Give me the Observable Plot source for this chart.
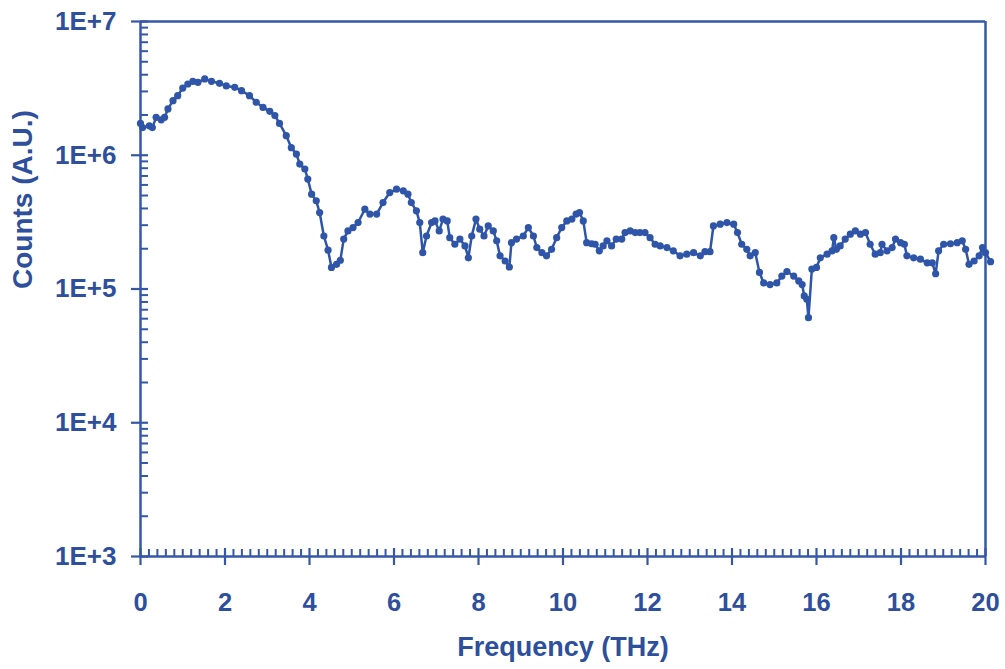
<!DOCTYPE html>
<html>
<head>
<meta charset="utf-8">
<script src="https://cdn.jsdelivr.net/npm/d3@7"></script>
<script src="https://cdn.jsdelivr.net/npm/@observablehq/plot@0.6"></script>
<style>
  html, body { margin: 0; padding: 0; background: #ffffff; }
  #chart svg { display: block; font-family: "Liberation Sans", Arial, sans-serif; font-weight: bold; }
</style>
</head>
<body>
<div id="chart"></div>
<script>
// Frequency (THz)
const freq = [
  0.00, 0.05, 0.21, 0.28, 0.37, 0.49, 0.57, 0.65, 0.77, 0.88,
  1.00, 1.12, 1.24, 1.36, 1.52, 1.68, 1.87, 2.03, 2.23, 2.39,
  2.58, 2.74, 2.90, 3.06, 3.18, 3.29, 3.45, 3.57, 3.69, 3.77,
  3.89, 3.96, 4.05, 4.16, 4.24, 4.34, 4.44, 4.52, 4.64, 4.73,
  4.81, 4.91, 5.03, 5.15, 5.31, 5.43, 5.59, 5.74, 5.90, 6.06,
  6.22, 6.33, 6.41, 6.53, 6.61, 6.68, 6.77, 6.89, 6.97, 7.07,
  7.16, 7.26, 7.32, 7.44, 7.56, 7.68, 7.76, 7.84, 7.94, 8.03,
  8.13, 8.23, 8.35, 8.43, 8.51, 8.63, 8.73, 8.78, 8.90, 9.06,
  9.18, 9.30, 9.38, 9.50, 9.61, 9.73, 9.85, 9.97, 10.09, 10.21,
  10.31, 10.39, 10.48, 10.56, 10.68, 10.76, 10.86, 10.95, 11.04, 11.15,
  11.26, 11.39, 11.47, 11.59, 11.71, 11.82, 11.94, 12.06, 12.18, 12.30,
  12.46, 12.61, 12.77, 12.93, 13.09, 13.25, 13.36, 13.48, 13.56, 13.72,
  13.88, 14.04, 14.13, 14.23, 14.35, 14.43, 14.55, 14.65, 14.75, 14.90,
  15.06, 15.18, 15.30, 15.46, 15.58, 15.66, 15.71, 15.77, 15.81, 15.89,
  16.00, 16.09, 16.25, 16.37, 16.41, 16.47, 16.56, 16.68, 16.80, 16.92,
  17.04, 17.16, 17.27, 17.39, 17.51, 17.55, 17.67, 17.79, 17.87, 17.99,
  18.08, 18.14, 18.30, 18.46, 18.62, 18.74, 18.82, 18.89, 19.01, 19.17,
  19.33, 19.45, 19.53, 19.61, 19.73, 19.85, 19.93, 20.00, 20.12
];
// Counts (A.U.)
const counts = [
  1.73e6, 1.61e6, 1.66e6, 1.61e6, 1.92e6, 1.84e6, 1.92e6, 2.22e6, 2.56e6, 2.79e6,
  3.18e6, 3.41e6, 3.57e6, 3.51e6, 3.72e6, 3.57e6, 3.45e6, 3.30e6, 3.22e6, 3.04e6,
  2.79e6, 2.49e6, 2.28e6, 2.13e6, 1.98e6, 1.73e6, 1.40e6, 1.14e6, 1.02e6, 8.59e5,
  7.89e5, 6.64e5, 5.12e5, 4.56e5, 3.73e5, 2.49e5, 1.95e5, 1.45e5, 1.53e5, 1.64e5,
  2.36e5, 2.72e5, 2.88e5, 3.14e5, 3.95e5, 3.63e5, 3.63e5, 4.43e5, 5.26e5, 5.58e5,
  5.42e5, 5.12e5, 4.43e5, 3.84e5, 3.14e5, 1.87e5, 2.49e5, 3.14e5, 3.23e5, 2.72e5,
  3.33e5, 3.23e5, 2.42e5, 2.16e5, 2.36e5, 2.10e5, 1.71e5, 2.49e5, 3.33e5, 2.80e5,
  2.49e5, 2.96e5, 2.72e5, 2.29e5, 1.77e5, 1.62e5, 1.46e5, 2.22e5, 2.36e5, 2.49e5,
  2.88e5, 2.49e5, 2.04e5, 1.87e5, 1.77e5, 1.98e5, 2.42e5, 2.88e5, 3.23e5, 3.33e5,
  3.63e5, 3.73e5, 3.23e5, 2.22e5, 2.18e5, 2.16e5, 1.93e5, 2.10e5, 2.29e5, 2.10e5,
  2.36e5, 2.36e5, 2.64e5, 2.72e5, 2.64e5, 2.64e5, 2.64e5, 2.42e5, 2.16e5, 2.10e5,
  2.04e5, 1.93e5, 1.77e5, 1.82e5, 1.87e5, 1.77e5, 1.90e5, 1.90e5, 2.96e5, 3.05e5,
  3.14e5, 3.05e5, 2.64e5, 2.16e5, 1.98e5, 1.77e5, 1.87e5, 1.33e5, 1.11e5, 1.08e5,
  1.11e5, 1.25e5, 1.35e5, 1.25e5, 1.15e5, 1.08e5, 8.87e4, 8.38e4, 6.10e4, 1.41e5,
  1.45e5, 1.71e5, 1.82e5, 1.93e5, 2.42e5, 1.98e5, 2.10e5, 2.36e5, 2.57e5, 2.72e5,
  2.57e5, 2.64e5, 2.16e5, 1.82e5, 1.87e5, 2.16e5, 1.93e5, 2.04e5, 2.36e5, 2.22e5,
  2.16e5, 1.77e5, 1.71e5, 1.67e5, 1.57e5, 1.57e5, 1.30e5, 1.93e5, 2.16e5, 2.18e5,
  2.22e5, 2.29e5, 1.98e5, 1.53e5, 1.62e5, 1.77e5, 2.04e5, 1.87e5, 1.60e5
];
// Axis ticks
const xMajorTicks = [0, 2, 4, 6, 8, 10, 12, 14, 16, 18, 20];
const yMajorTicks = [1e3, 1e4, 1e5, 1e6, 1e7];
const yTickLabels = ["1E+3", "1E+4", "1E+5", "1E+6", "1E+7"];
const xMinorStep = 0.2;
const yMinorMultipliers = [2, 3, 4, 5, 6, 7, 8, 9];

const data = freq.map((f, i) => ({f, c: counts[i]}));
const xMinorTicks = d3.range(0, 20 + 1e-9, xMinorStep)
  .map(v => Math.round(v * 10) / 10)
  .filter(v => !xMajorTicks.includes(v));
const yMinorTicks = yMajorTicks.slice(0, -1)
  .flatMap(p => yMinorMultipliers.map(m => m * p));

const W = 1005, H = 669;
const mL = 140, mR = 20, mT = 21, mB = 113;
const fw = W - mL - mR, fh = H - mT - mB;
const axisColor = "#3557a6";
const textColor = "#2d4f9c";
const dataColor = "#2f55a8";

const chart = Plot.plot({
  width: W,
  height: H,
  marginLeft: mL,
  marginRight: mR,
  marginTop: mT,
  marginBottom: mB,
  style: {background: "#ffffff", color: textColor},
  x: {type: "linear", domain: [0, 20]},
  y: {type: "log", domain: [1e3, 1e7]},
  marks: [
    // minor ticks
    Plot.ruleX(xMinorTicks, {x: d => d, stroke: axisColor, strokeWidth: 2, insetTop: fh - 7}),
    Plot.ruleY(yMinorTicks, {y: d => d, stroke: axisColor, strokeWidth: 2, insetRight: fw - 8}),
    // major ticks (cross the axis)
    Plot.ruleX(xMajorTicks, {x: d => d, stroke: axisColor, strokeWidth: 2.2, insetTop: fh - 8, insetBottom: -9}),
    Plot.ruleY(yMajorTicks, {y: d => d, stroke: axisColor, strokeWidth: 2.2, insetRight: fw - 8, insetLeft: -9}),
    // frame lines
    Plot.ruleX([0, 20], {x: d => d, stroke: axisColor, strokeWidth: 2.5}),
    Plot.ruleY([1e3, 1e7], {y: d => d, stroke: axisColor, strokeWidth: 2.5}),
    // tick labels
    Plot.axisX(xMajorTicks, {
      anchor: "bottom", tickSize: 0, tickPadding: 36, fontSize: 25.5, fontWeight: "bold",
      fill: textColor, label: null, tickFormat: d => String(d)
    }),
    Plot.axisY(yMajorTicks, {
      anchor: "left", tickSize: 0, tickPadding: 24, fontSize: 26, fontWeight: "bold",
      fill: textColor, label: null, tickFormat: d => yTickLabels[yMajorTicks.indexOf(d)]
    }),
    // axis titles
    Plot.text(["Frequency (THz)"], {
      frameAnchor: "bottom", lineAnchor: "middle", dy: 91, fontSize: 27, fontWeight: "bold", fill: textColor
    }),
    Plot.text(["Counts (A.U.)"], {
      frameAnchor: "left", lineAnchor: "middle", rotate: -90, dx: -117, fontSize: 28, fontWeight: "bold", fill: textColor
    }),
    // data
    Plot.line(data, {x: "f", y: "c", stroke: dataColor, strokeWidth: 2.5}),
    Plot.dot(data, {x: "f", y: "c", r: 3.6, fill: dataColor, stroke: "none"})
  ]
});
document.getElementById("chart").appendChild(chart);
</script>
</body>
</html>
